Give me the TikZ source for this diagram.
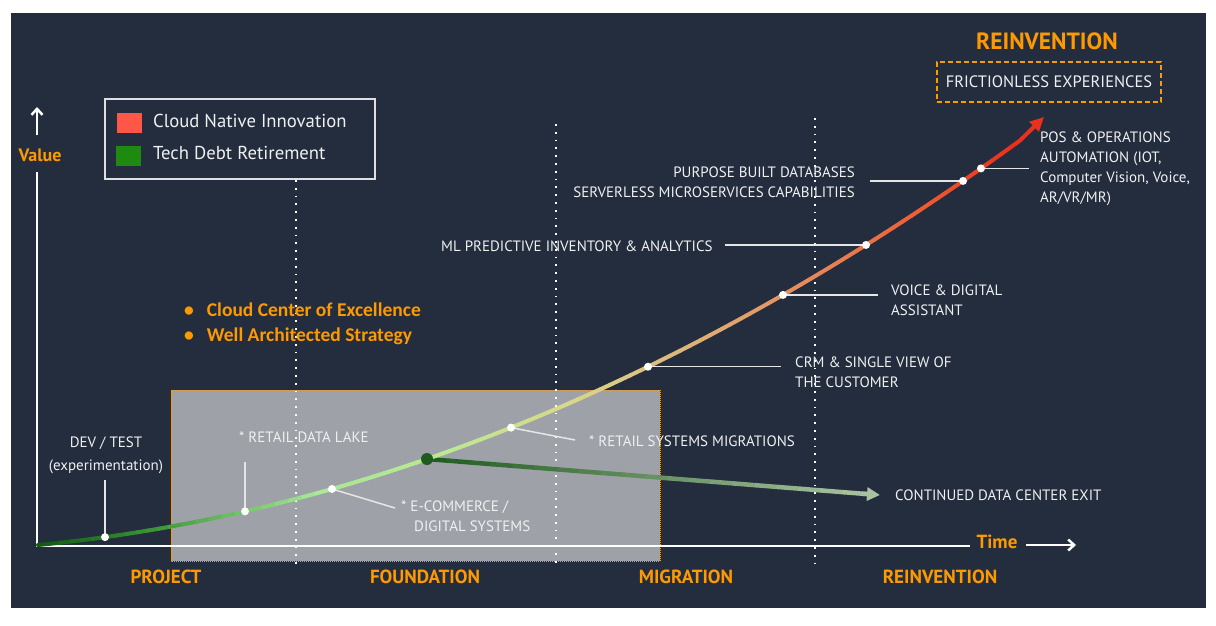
\documentclass[tikz,border=0pt]{standalone}
\usepackage{fontspec}
\setmainfont{PT Sans}
\newfontfamily\carl{Carlito}
\usetikzlibrary{arrows.meta}
\definecolor{bg}{HTML}{232D3D}
\definecolor{aws}{HTML}{FF9900}
\definecolor{boxgray}{HTML}{9EA2A8}
\definecolor{legred}{HTML}{FF5747}
\definecolor{leggreen}{HTML}{1E8A10}
\definecolor{txt}{HTML}{F0F0F0}
\definecolor{leadc}{HTML}{E6E6E6}
\definecolor{ca}{HTML}{0B520E}
\definecolor{cb}{HTML}{3D963A}
\definecolor{cc}{HTML}{A6E796}
\definecolor{cd}{HTML}{BDE890}
\definecolor{ce}{HTML}{D8D88C}
\definecolor{cf}{HTML}{DDB479}
\definecolor{cg}{HTML}{E58A5A}
\definecolor{ch}{HTML}{EE5C35}
\definecolor{ci}{HTML}{E8321F}
\definecolor{debtA}{HTML}{1F5A1F}
\definecolor{debtB}{HTML}{A9C3A0}
\pgfmathdeclarefunction{cy}{1}{\pgfmathparse{545-9.60*((#1-38)/100)-3.217*((#1-38)/100)^2}}
\newcommand\gradline[5]{%
  \foreach \i [evaluate=\i as \gpp using {100*(\i+0.5)/#5},
               evaluate=\i as \gxa using {#1+(#2-#1)*\i/#5}] in {1,...,#5}
    {\draw[curveseg, color=#4!\gpp!#3] (\gxa-#2/#5+#1/#5,{cy(\gxa-#2/#5+#1/#5)}) -- (\gxa,{cy(\gxa)});}%
}
\tikzset{
  lbl/.style={text=txt, font=\fontsize{15}{20}\selectfont, inner sep=0pt},
  hdr/.style={text=aws, font=\bfseries\fontsize{19}{22}\selectfont, inner sep=0pt},
  leader/.style={draw=leadc, line width=1.5pt},
  dot/.style={circle, fill=white, inner sep=0pt, minimum size=8pt},
  vdots/.style={draw=white, line width=1.8pt, dash pattern=on 1.8pt off 6pt},
  curveseg/.style={line width=4pt, line cap=round},
  axisline/.style={draw=white, line width=2.5pt},
  barb/.style={draw=white, line width=2.5pt, -{Straight Barb[length=6pt,width=11pt]}},
  bullet/.style={text=aws, font=\carl\bfseries\fontsize{19.5}{22}\selectfont, anchor=west, inner sep=0pt},
}
\begin{document}
\begin{tikzpicture}[x=1pt,y=-1pt]
\useasboundingbox (0,0) rectangle (1216,626);
\fill[white] (0,0) rectangle (1216,626);
\fill[bg] (11,13) rectangle (1206,608);
% gray foundation area
\draw[fill=boxgray, draw=aws, line width=0.8pt, dash pattern=on 1pt off 1pt] (171,390) rectangle (660,561);
% phase separators
\draw[vdots] (296,180) -- (296,566);
\draw[vdots] (556,124) -- (556,563);
\draw[vdots] (815,118) -- (815,567);
% axes
\coordinate (vTop) at (37,172);
\coordinate (O) at (37,546);
\coordinate (hEnd) at (970,546);
\draw[axisline] (vTop) -- (O) -- (hEnd);
\node[hdr, font=\bfseries\fontsize{18}{20}\selectfont] (value) at (40,155) {Value};
\coordinate (vA) at (37,135);
\coordinate (vB) at (37,107);
\draw[barb] (vA) -- (vB);
\node[hdr] (time) at (997,542) {Time};
\coordinate (tA) at (1026,545);
\coordinate (tB) at (1076,545);
\draw[barb] (tA) -- (tB);
% legend
\node[draw=white!85!bg, line width=1.5pt, minimum width=270pt, minimum height=80pt, inner sep=0pt] (legend) at (240,139) {};
\node[fill=legred, minimum width=25pt, minimum height=20pt, inner sep=0pt] (sqR) at (129.5,123) {};
\node[fill=leggreen, minimum width=25pt, minimum height=20pt, inner sep=0pt] (sqG) at (128.5,156) {};
\node[lbl, font=\fontsize{18.7}{22}\selectfont, anchor=west] (legR) at (153,121) {Cloud Native Innovation};
\node[lbl, font=\fontsize{18.7}{22}\selectfont, anchor=west] (legG) at (153,153) {Tech Debt Retirement};
% bullets
\node[bullet] (b1) at (184,310) {•\hspace{13pt}Cloud Center of Excellence};
\node[bullet] (b2) at (184,336) {•\hspace{13pt}Well Architected Strategy};
% tech debt branch
\foreach \i [evaluate=\i as \gpp using {100*(\i-0.5)/20},
             evaluate=\i as \gxa using {427+(866-427)*(\i-1)/20},
             evaluate=\i as \gxb using {427+(866-427)*\i/20}] in {1,...,20}
  {\draw[line width=4.5pt, line cap=round, color=debtB!\gpp!debtA] (\gxa,{459+35*(\gxa-427)/439}) -- (\gxb,{459+35*(\gxb-427)/439});}
\coordinate (debtS) at (862,{459+35*(862-427)/439});
\coordinate (debtE) at (880,495);
\draw[line width=4.5pt, color=debtB, -{Triangle[length=13pt,width=13pt]}] (debtS) -- (debtE);
% main curve with gradient
\gradline{38}{170}{ca}{cb}{12}
\gradline{170}{330}{cb}{cc}{12}
\gradline{330}{460}{cc}{cd}{12}
\gradline{460}{580}{cd}{ce}{12}
\gradline{580}{700}{ce}{cf}{12}
\gradline{700}{820}{cf}{cg}{12}
\gradline{820}{930}{cg}{ch}{12}
\gradline{930}{1020}{ch}{ci}{10}
\coordinate (cEnd) at (1020,{cy(1020)});
\coordinate (cTip) at (1044,117);
\draw[line width=4pt, color=ci, -{Triangle[length=14pt,width=13pt]}] (cEnd) -- (cTip);
% points on the curve
\coordinate (pDev) at (105,{cy(105)});
\coordinate (pLake) at (245,{cy(245)});
\coordinate (pEcom) at (332,{cy(332)});
\coordinate (pRsm) at (511,{cy(511)});
\coordinate (pCrm) at (648,{cy(648)});
\coordinate (pVoice) at (783,{cy(783)});
\coordinate (pMl) at (866,{cy(866)});
\coordinate (pPur) at (963,{cy(963)});
\coordinate (pPos) at (981,{cy(981)});
% leader ends
\coordinate (eDev) at (105,480);
\coordinate (eLake) at (245,462);
\coordinate (eEcom) at (395,508);
\coordinate (eRsm) at (575,440);
\coordinate (eCrm) at (781,{cy(648)});
\coordinate (eVoice) at (878,{cy(783)});
\coordinate (eMl) at (725,{cy(866)});
\coordinate (ePur) at (870,{cy(963)});
\coordinate (ePos) at (1029,{cy(981)});
\foreach \a in {Dev,Lake,Ecom,Rsm,Crm,Voice,Ml,Pur,Pos}
  \draw[leader] (p\a) -- (e\a);
\foreach \a in {Dev,Lake,Ecom,Rsm,Crm,Voice,Ml,Pur,Pos}
  \node[dot] (d\a) at (p\a) {};
\node[circle, fill=debtA, inner sep=0pt, minimum size=12pt] (dDebt) at (427,459) {};
% labels
\node[lbl, align=center, anchor=north, font=\fontsize{15}{23}\selectfont] (lDev) at (106,437) {DEV / TEST\\(experimentation)};
\node[lbl] (lLake) at (304,437) {* RETAIL DATA LAKE};
\node[lbl, align=left, anchor=north west] (lEcom) at (401,501) {* E-COMMERCE /\\\hspace{13pt}DIGITAL SYSTEMS};
\node[lbl, anchor=west] (lRsm) at (589,441) {* RETAIL SYSTEMS MIGRATIONS};
\node[lbl, align=left, anchor=north west] (lCrm) at (795,357) {CRM \& SINGLE VIEW OF\\THE CUSTOMER};
\node[lbl, align=left, anchor=north west] (lVoice) at (891,285) {VOICE \& DIGITAL\\ASSISTANT};
\node[lbl, anchor=west] (lMl) at (441,246) {ML PREDICTIVE INVENTORY \& ANALYTICS};
\node[lbl, align=right, anchor=north east] (lPur) at (855,167) {PURPOSE BUILT DATABASES\\SERVERLESS MICROSERVICES CAPABILITIES};
\node[lbl, align=left, anchor=north west] (lPos) at (1040,132) {POS \& OPERATIONS\\AUTOMATION (IOT,\\Computer Vision, Voice,\\AR/VR/MR)};
\node[lbl, anchor=west] (lExit) at (895,495) {CONTINUED DATA CENTER EXIT};
% top right
\node[hdr, font=\bfseries\fontsize{23.5}{26}\selectfont] (reinvTop) at (1047,41) {REINVENTION};
\node[lbl, font=\fontsize{16.5}{18}\selectfont, draw=aws, line width=1.5pt, dash pattern=on 5pt off 3pt, minimum width=224pt, minimum height=40pt] (fric) at (1049,82) {FRICTIONLESS EXPERIENCES};
% phases
\node[hdr] (ph1) at (166,577) {PROJECT};
\node[hdr] (ph2) at (425,577) {FOUNDATION};
\node[hdr] (ph3) at (686,577) {MIGRATION};
\node[hdr] (ph4) at (940,577) {REINVENTION};
\end{tikzpicture}
\end{document}
